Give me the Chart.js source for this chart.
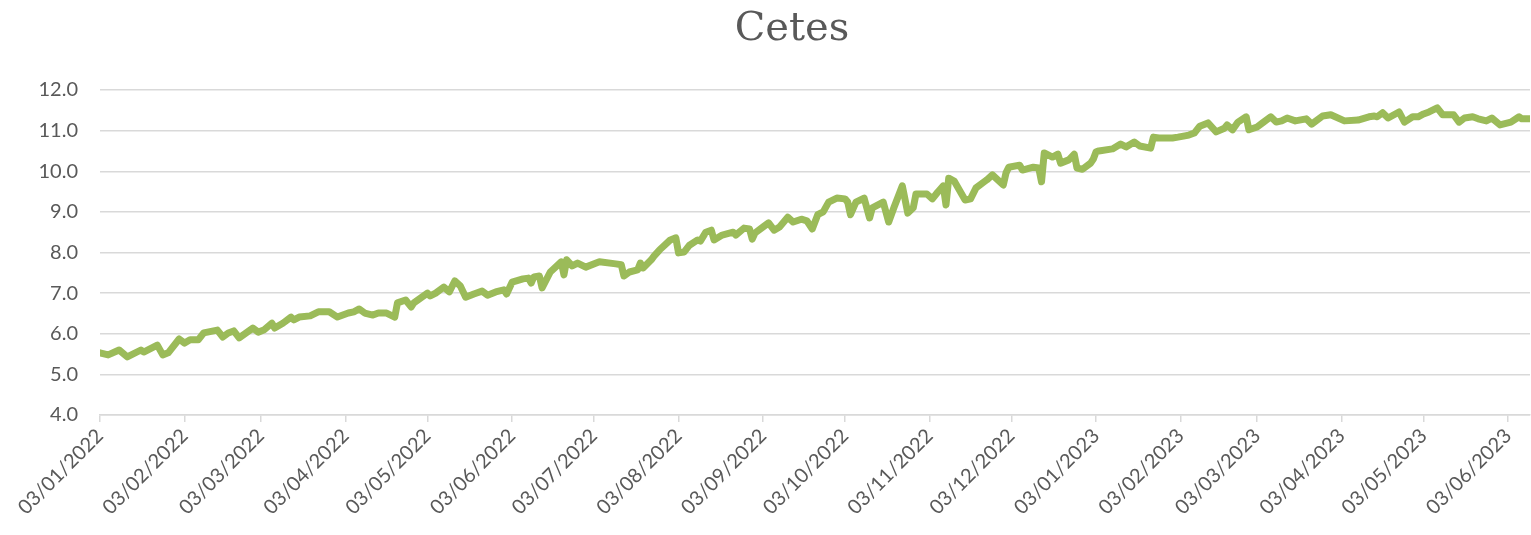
<!DOCTYPE html>
<html>
<head>
<meta charset="utf-8">
<script src="https://cdn.jsdelivr.net/npm/chart.js@4.4.1/dist/chart.umd.min.js"></script>
<style>
html,body{margin:0;padding:0;background:#fff;}
#wrap{width:1531px;height:535px;}
</style>
</head>
<body>
<div id="wrap"><canvas id="c" width="1531" height="535"></canvas></div>
<script>
// Days elapsed since 03/01/2022
const days = [0,3,7,10,15,16,21,23,25,29,31,33,36,38,43,45,47,49,51,56,58,60,63,64,67,70,71,73,77,80,84,87,91,93,95,97,100,102,105,108,109,112,114,115,120,121,123,126,128,130,132,134,137,140,142,145,148,149,151,155,157,158,159,161,162,165,169,170,171,173,175,178,183,189,191,192,194,197,198,199,202,203,205,209,211,212,214,216,219,220,222,224,225,228,232,233,236,238,239,240,243,245,247,249,252,254,257,259,261,263,265,267,270,273,274,275,277,280,282,283,287,289,291,294,296,298,299,303,305,307,309,310,311,313,317,319,321,324,325,327,331,332,333,337,338,342,344,345,346,349,351,352,355,357,358,360,363,364,365,366,371,374,376,379,381,385,386,388,393,395,399,401,403,406,409,412,413,415,417,420,421,424,426,429,431,433,435,438,442,444,448,451,456,461,465,467,468,470,472,476,478,481,483,485,487,490,492,496,498,500,503,505,508,510,513,517,520,521,524];
// Cetes rate (%)
const rates = [5.53,5.48,5.60,5.43,5.60,5.55,5.72,5.48,5.53,5.87,5.77,5.85,5.85,6.02,6.09,5.92,6.02,6.07,5.90,6.14,6.04,6.09,6.26,6.14,6.26,6.41,6.34,6.41,6.44,6.54,6.54,6.41,6.51,6.54,6.61,6.51,6.46,6.51,6.51,6.41,6.76,6.83,6.66,6.76,7.00,6.93,7.00,7.15,7.03,7.30,7.18,6.90,6.98,7.05,6.95,7.03,7.08,6.98,7.27,7.35,7.37,7.25,7.40,7.42,7.13,7.52,7.77,7.45,7.82,7.67,7.74,7.64,7.77,7.72,7.70,7.42,7.52,7.57,7.74,7.62,7.82,7.91,8.06,8.31,8.36,7.99,8.01,8.18,8.31,8.28,8.50,8.55,8.31,8.43,8.50,8.43,8.60,8.58,8.33,8.48,8.63,8.73,8.55,8.63,8.87,8.75,8.82,8.78,8.58,8.93,9.00,9.24,9.34,9.32,9.24,8.93,9.24,9.34,8.85,9.10,9.24,8.75,9.12,9.64,8.97,9.10,9.44,9.44,9.32,9.49,9.64,9.17,9.83,9.76,9.29,9.32,9.59,9.74,9.79,9.91,9.66,9.96,10.10,10.15,10.03,10.10,10.08,9.74,10.45,10.35,10.42,10.20,10.28,10.42,10.08,10.05,10.20,10.30,10.48,10.50,10.55,10.67,10.60,10.72,10.62,10.57,10.84,10.82,10.82,10.84,10.89,10.94,11.11,11.19,10.97,11.06,11.14,11.02,11.21,11.34,11.02,11.09,11.19,11.34,11.21,11.24,11.31,11.24,11.29,11.16,11.36,11.39,11.24,11.26,11.34,11.36,11.34,11.44,11.31,11.46,11.21,11.34,11.34,11.41,11.46,11.56,11.39,11.39,11.21,11.31,11.34,11.29,11.24,11.31,11.14,11.21,11.34,11.29,11.29];
// X tick labels (dd/mm/yyyy)
const tickLabels = ['03/01/2022','03/02/2022','03/03/2022','03/04/2022','03/05/2022','03/06/2022','03/07/2022','03/08/2022','03/09/2022','03/10/2022','03/11/2022','03/12/2022','03/01/2023','03/02/2023','03/03/2023','03/04/2023','03/05/2023','03/06/2023'];
const titleText = 'Cetes';
const yMin = 4, yMax = 12, xMax = 524;

function parseDMY(s){const p=s.split('/');return Date.UTC(+p[2],+p[1]-1,+p[0]);}
const base = parseDMY(tickLabels[0]);
const tickDays = tickLabels.map(s => Math.round((parseDMY(s)-base)/86400000));
const points = days.map((d,i)=>({x:d,y:rates[i]}));

const txt = '#595959';

const titlePlugin = {
  id: 'offsetTitle',
  afterDraw(chart) {
    const ctx = chart.ctx;
    ctx.save();
    ctx.fillStyle = txt;
    ctx.font = '40px "DejaVu Serif"';
    ctx.textAlign = 'center';
    ctx.textBaseline = 'alphabetic';
    ctx.fillText(titleText, 792, 40);
    ctx.restore();
  }
};

new Chart(document.getElementById('c'), {
  type: 'line',
  data: { datasets: [{
    data: points,
    borderColor: '#9bbb59',
    borderWidth: 7,
    pointRadius: 0,
    tension: 0,
    borderJoinStyle: 'round',
    borderCapStyle: 'round'
  }]},
  plugins: [titlePlugin],
  options: {
    responsive: false,
    animation: false,
    events: [],
    layout: { padding: { left: 0, right: 1, top: 90, bottom: 0 } },
    plugins: {
      legend: { display: false },
      tooltip: { enabled: false },
      title: { display: false }
    },
    scales: {
      x: {
        type: 'linear', min: 0, max: xMax,
        afterBuildTicks: s => { s.ticks = tickDays.map(v => ({ value: v })); },
        afterFit: s => { s.height = 120; s.paddingLeft = 0; s.paddingRight = 0; },
        ticks: {
          autoSkip: false, maxRotation: 45, minRotation: 45, padding: 2,
          color: txt, font: { family: 'Lato', size: 20 },
          callback: v => { const i = tickDays.indexOf(v); return i >= 0 ? tickLabels[i] : ''; }
        },
        grid: { drawOnChartArea: false, drawTicks: true, tickLength: 7, color: '#d9d9d9', lineWidth: 1.5 },
        border: { display: true, color: '#d9d9d9', width: 1.5 }
      },
      y: {
        min: yMin, max: yMax,
        afterFit: s => { s.width = 100; s.paddingTop = 0; s.paddingBottom = 0; },
        ticks: {
          stepSize: 0.5, padding: 22, color: txt, font: { family: 'Lato', size: 20 },
          callback: v => (Math.abs(v % 1) < 1e-9 ? v.toFixed(1) : '')
        },
        grid: {
          drawTicks: false,
          color: c => (Math.abs(c.tick.value % 1) < 1e-9 ? '#d9d9d9' : '#f0f0f0'),
          lineWidth: 1.5
        },
        border: { display: false }
      }
    }
  }
});
</script>
</body>
</html>
